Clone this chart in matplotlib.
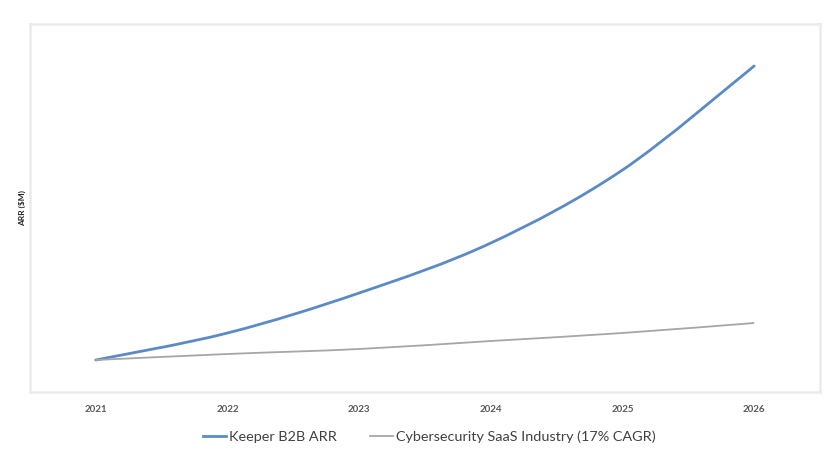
import matplotlib
matplotlib.use("Agg")
import matplotlib.pyplot as plt
from matplotlib.path import Path
from matplotlib.patches import PathPatch
from matplotlib.lines import Line2D

# values (arbitrary $M scale, no y tick labels shown)
years = ["2021", "2022", "2023", "2024", "2025", "2026"]
keeper_arr = [32, 59, 99, 149, 222, 326]
industry = [32, 38, 43, 51, 59, 69]

plt.rcParams["font.family"] = ["Lato", "DejaVu Sans"]


def smooth_path(xs, ys):
    # Excel-style smoothed line: cubic Bezier through the data points
    verts = [(xs[0], ys[0])]
    codes = [Path.MOVETO]
    n = len(xs)
    for i in range(n - 1):
        x0, y0 = xs[max(i - 1, 0)], ys[max(i - 1, 0)]
        x1, y1 = xs[i], ys[i]
        x2, y2 = xs[i + 1], ys[i + 1]
        x3, y3 = xs[min(i + 2, n - 1)], ys[min(i + 2, n - 1)]
        c1 = (x1 + (x2 - x0) / 6, y1 + (y2 - y0) / 6)
        c2 = (x2 - (x3 - x1) / 6, y2 - (y3 - y1) / 6)
        verts += [c1, c2, (x2, y2)]
        codes += [Path.CURVE4] * 3
    return Path(verts, codes)


fig = plt.figure(figsize=(8.3, 4.68), dpi=100)
ax = fig.add_axes([30 / 830, 1 - 392 / 468, 790 / 830, 368 / 468])

x = list(range(len(years)))
blue = "#5b8ac6"
gray = "#a6a6a6"
ax.add_patch(PathPatch(smooth_path(x, keeper_arr), fill=False, edgecolor=blue, lw=2.0, capstyle="round"))
ax.add_patch(PathPatch(smooth_path(x, industry), fill=False, edgecolor=gray, lw=1.3))

ax.set_xlim(-0.5, len(years) - 0.5)
ax.set_ylim(0, 368)
ax.set_xticks(x)
ax.set_xticklabels(years, fontsize=7, fontweight="bold", color="#595959")
ax.set_yticks([])
ax.tick_params(axis="x", length=0, pad=9)

for s in ax.spines.values():
    s.set_color("#ebebeb")
    s.set_linewidth(1.8)

fig.text(22 / 830, 1 - 208 / 468, "ARR ($M)", rotation=90, fontsize=6, fontweight="bold",
         color="#262626", ha="center", va="center")

handles = [Line2D([], [], color=blue, lw=2.0), Line2D([], [], color=gray, lw=1.3)]
labels = ["Keeper B2B ARR", "Cybersecurity SaaS Industry (17% CAGR)"]
leg = fig.legend(handles, labels, loc="center", bbox_to_anchor=(429 / 830, 1 - 437 / 468), ncol=2,
                 frameon=False, fontsize=10.4, handlelength=1.6, handletextpad=0.2, columnspacing=2.3)
for t in leg.get_texts():
    t.set_color("#404040")

plt.savefig("out.png", dpi=100)
